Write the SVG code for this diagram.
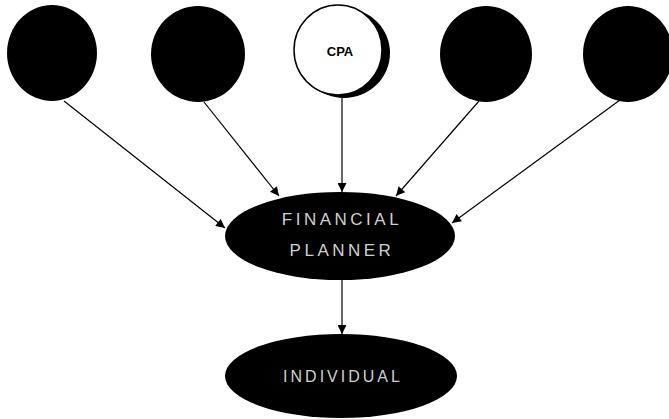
<svg xmlns="http://www.w3.org/2000/svg" width="669" height="419" viewBox="0 0 669 419">
<style>
.dark{fill:#000;}
.lbl{font-family:"Liberation Sans",Arial,sans-serif;fill:#d0d0d0;text-anchor:middle;}
.edge{stroke:#000;stroke-width:1.2;fill:none;marker-end:url(#arr);}
</style>
<defs>
<marker id="arr" viewBox="0 0 10 10" refX="10" refY="5" markerWidth="10" markerHeight="9" markerUnits="userSpaceOnUse" orient="auto">
<path d="M0,0 L10,5 L0,10 z" fill="#000"/>
</marker>
</defs>
<rect width="669" height="419" fill="#fff"/>
<g id="node1"><ellipse class="dark" cx="52" cy="53" rx="45" ry="48"/></g>
<g id="node2"><ellipse class="dark" cx="198" cy="54" rx="47" ry="48"/></g>
<g id="node-cpa">
<ellipse cx="344" cy="53" rx="46" ry="45" fill="#000"/>
<ellipse cx="338" cy="50" rx="44" ry="45" fill="#fff" stroke="#000" stroke-width="1.5"/>
<text x="340" y="56" font-family="Liberation Sans,Arial,sans-serif" font-size="13" font-weight="bold" text-anchor="middle" fill="#000">CPA</text>
</g>
<g id="node4"><ellipse class="dark" cx="486" cy="54" rx="46" ry="48"/></g>
<g id="node5"><ellipse class="dark" cx="628" cy="54" rx="45" ry="48"/></g>
<g id="node-planner">
<ellipse class="dark" cx="340" cy="236" rx="115" ry="44"/>
<text class="lbl" x="342" y="225" font-size="17" letter-spacing="3.5">FINANCIAL</text>
<text class="lbl" x="342" y="256" font-size="17" letter-spacing="3.5">PLANNER</text>
</g>
<g id="node-individual">
<ellipse class="dark" cx="341" cy="376" rx="116" ry="42"/>
<text class="lbl" x="343" y="382" font-size="16" letter-spacing="3">INDIVIDUAL</text>
</g>
<g id="connectors">
<line class="edge" x1="64" y1="101" x2="225" y2="228"/>
<line class="edge" x1="204" y1="102" x2="279" y2="196"/>
<line class="edge" x1="342" y1="98" x2="342" y2="192"/>
<line class="edge" x1="479" y1="101" x2="396" y2="196"/>
<line class="edge" x1="620" y1="100" x2="452" y2="223"/>
<line class="edge" x1="342" y1="280" x2="342" y2="334"/>
</g>
</svg>
